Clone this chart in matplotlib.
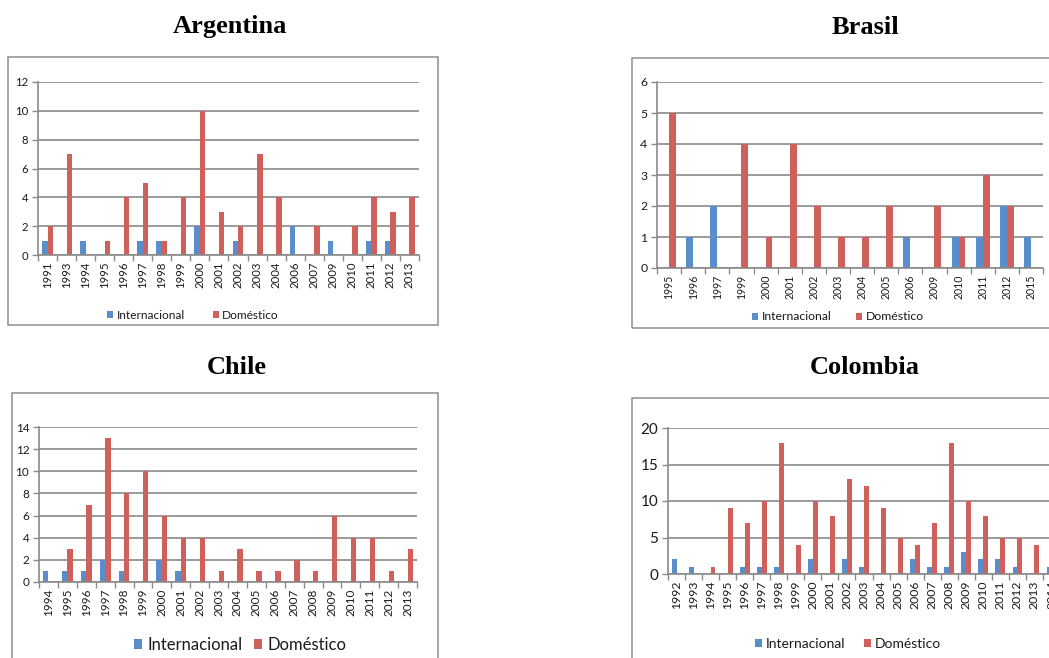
import matplotlib
matplotlib.use('Agg')
import matplotlib.pyplot as plt
from matplotlib.patches import Rectangle
import numpy as np

# ---------------- data ----------------
arg_years = ['1991', '1993', '1994', '1995', '1996', '1997', '1998', '1999', '2000', '2001',
             '2002', '2003', '2004', '2006', '2007', '2009', '2010', '2011', '2012', '2013']
arg_int = [1, 0, 1, 0, 0, 1, 1, 0, 2, 0, 1, 0, 0, 2, 0, 1, 0, 1, 1, 0]
arg_dom = [2, 7, 0, 1, 4, 5, 1, 4, 10, 3, 2, 7, 4, 0, 2, 0, 2, 4, 3, 4]

bra_years = ['1995', '1996', '1997', '1999', '2000', '2001', '2002', '2003', '2004', '2005',
             '2006', '2009', '2010', '2011', '2012', '2015']
bra_int = [0, 1, 2, 0, 0, 0, 0, 0, 0, 0, 1, 0, 1, 1, 2, 1]
bra_dom = [5, 0, 0, 4, 1, 4, 2, 1, 1, 2, 0, 2, 1, 3, 2, 0]

chi_years = ['1994', '1995', '1996', '1997', '1998', '1999', '2000', '2001', '2002', '2003',
             '2004', '2005', '2006', '2007', '2008', '2009', '2010', '2011', '2012', '2013']
chi_int = [1, 1, 1, 2, 1, 0, 2, 1, 0, 0, 0, 0, 0, 0, 0, 0, 0, 0, 0, 0]
chi_dom = [0, 3, 7, 13, 8, 10, 6, 4, 4, 1, 3, 1, 1, 2, 1, 6, 4, 4, 1, 3]

col_years = ['1992', '1993', '1994', '1995', '1996', '1997', '1998', '1999', '2000', '2001',
             '2002', '2003', '2004', '2005', '2006', '2007', '2008', '2009', '2010', '2011',
             '2012', '2013', '2014']
col_int = [2, 1, 0, 0, 1, 1, 1, 0, 2, 0, 2, 1, 0, 0, 2, 1, 1, 3, 2, 2, 1, 0, 1]
col_dom = [0, 0, 1, 9, 7, 10, 18, 4, 10, 8, 13, 12, 9, 5, 4, 7, 18, 10, 8, 5, 5, 4, 3]

series_names = ['Internacional', 'Doméstico']

# ---------------- style ----------------
W, H = 1049, 658
plt.rcParams['font.family'] = ['Lato', 'DejaVu Sans']
fig = plt.figure(figsize=(W / 100, H / 100), dpi=100)

BLUE = '#5A8ECB'
RED = '#D0605B'
GRID = '#8A8A8A'
FRAME = '#8E8E8E'
TEXT = '#1A1A1A'


def box(x0, y0, x1, y1):
    return [x0 / W, 1 - y1 / H, (x1 - x0) / W, (y1 - y0) / H]


def panel(title, title_xy, frame, axbox, years, intl, dom, ymax, ystep,
          xfs, yfs, legfs, leg_xy, colspace):
    fig.add_artist(Rectangle((frame[0] / W, 1 - frame[3] / H),
                             (frame[2] - frame[0]) / W, (frame[3] - frame[1]) / H,
                             transform=fig.transFigure, fill=False,
                             edgecolor=FRAME, lw=1.1))
    fig.text(title_xy[0] / W, 1 - title_xy[1] / H, title, ha='center', va='center',
             family='Liberation Serif', weight='bold', fontsize=19)
    ax = fig.add_axes(box(*axbox))
    x = np.arange(len(years))
    w = 1 / 3.5
    ax.bar(x - w / 2, intl, w, color=BLUE, label=series_names[0])
    ax.bar(x + w / 2, dom, w, color=RED, label=series_names[1])
    ax.set_xlim(-0.5, len(years) - 0.5)
    ax.set_ylim(0, ymax)
    ax.set_yticks(np.arange(0, ymax + ystep / 2, ystep))
    ax.yaxis.grid(True, color=GRID, lw=1.2)
    ax.set_axisbelow(True)
    ax.set_xticks(x)
    ax.set_xticklabels(years, rotation=90, fontsize=xfs, color=TEXT)
    ax.tick_params(axis='x', which='major', length=0, pad=5)
    ax.set_xticks(np.arange(-0.5, len(years)), minor=True)
    ax.tick_params(axis='x', which='minor', length=4, color=GRID, width=1)
    ax.tick_params(axis='y', length=4, color=GRID, width=1, labelsize=yfs,
                   labelcolor=TEXT, pad=3)
    for s in ['top', 'right']:
        ax.spines[s].set_visible(False)
    for s in ['left', 'bottom']:
        ax.spines[s].set_color(GRID)
        ax.spines[s].set_linewidth(1.2)
    ax.legend(loc='center', bbox_to_anchor=(leg_xy[0] / W, 1 - leg_xy[1] / H),
              bbox_transform=fig.transFigure, ncol=2, frameon=False, fontsize=legfs,
              handlelength=0.5, handleheight=0.5, handletextpad=0.3,
              columnspacing=colspace, borderpad=0, borderaxespad=0,
              labelcolor=TEXT)
    return ax


panel('Argentina', (230, 27), (8, 57, 438, 325), (38, 82, 419, 255),
      arg_years, arg_int, arg_dom, 12, 2, 8.2, 8.2, 8.6, (193, 315), 2.3)
panel('Brasil', (865, 27), (632, 58, 1060, 328), (657, 82, 1043, 268),
      bra_years, bra_int, bra_dom, 6, 1, 7.6, 8.8, 8.8, (838, 317), 2.0)
panel('Chile', (237, 367), (12, 393, 438, 670), (39, 427, 417, 582),
      chi_years, chi_int, chi_dom, 14, 2, 8.5, 8.5, 12, (240, 645), 0.7)
panel('Colombia', (865, 367), (632, 398, 1060, 670), (668, 428, 1060, 574),
      col_years, col_int, col_dom, 20, 5, 8.8, 11, 10, (848, 644), 1.3)

fig.savefig('out.png', dpi=100)
